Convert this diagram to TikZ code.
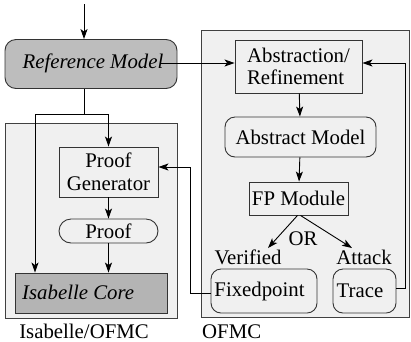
\documentclass[tikz,border=0pt]{standalone}
\usepackage{fontspec}
\setmainfont{Liberation Serif}
\usetikzlibrary{arrows.meta}
\definecolor{panel}{HTML}{F0F0F0}
\definecolor{darkbox}{HTML}{BDBDBD}
\definecolor{corebox}{HTML}{B4B4B4}
\tikzset{
  every node/.style={font=\fontsize{20.8}{22.5}\selectfont, inner sep=0pt},
  arr/.style={draw=black, line width=0.9pt, -{Stealth[length=10pt,width=7pt,inset=2.5pt]}},
  conn/.style={draw=black, line width=0.9pt},
  panelbox/.style={draw=black!75, line width=0.9pt, fill=panel},
  sqbox/.style={draw=black!80, line width=0.9pt, fill=panel},
  rbox/.style={draw=black!80, line width=0.9pt, rounded corners=10pt, fill=panel},
  lbl/.style={anchor=base},
}
\begin{document}
\begin{tikzpicture}[x=1pt,y=-1pt]
\useasboundingbox (0,0) rectangle (411,341);
% containers
\node[panelbox, minimum width=172pt, minimum height=195pt] (iso) at (91,220.5) {};
\node[panelbox, minimum width=208pt, minimum height=287pt] (ofmc) at (305,173.5) {};
\node[lbl] (isolbl) at (84,338) {Isabelle/OFMC};
\node[lbl, anchor=base west] (ofmclbl) at (202,338) {OFMC};
% reference model
\node[draw=black!80, line width=0.9pt, rounded corners=11pt, fill=darkbox, minimum width=172pt, minimum height=49pt] (rm) at (91,64) {};
\node (rmtext) at (93,63) {\itshape Reference Model};
% OFMC side
\node[sqbox, minimum width=127pt, minimum height=53pt, align=left] (abs) at (298.5,66.5) {Abstraction/\\Refinement};
\node[rbox, minimum width=151pt, minimum height=40pt] (am) at (300.5,137) {Abstract Model};
\node[sqbox, minimum width=99pt, minimum height=33pt] (fpm) at (298.5,198.5) {FP Module};
\node[rbox, minimum width=106pt, minimum height=44pt] (fx) at (264,291) {\hspace*{-9pt}Fixedpoint};
\node[rbox, minimum width=63pt, minimum height=44pt] (tr) at (364.5,291) {\hspace*{-9pt}Trace};
\node[lbl] (orl) at (303,245) {OR};
\node[lbl] (ver) at (248,264) {Verified};
\node[lbl] (att) at (364,264) {Attack};
% Isabelle side
\node[sqbox, minimum width=99pt, minimum height=50pt, align=center] (pg) at (108.5,172) {Proof\\Generator};
\node[rbox, rounded corners=12pt, minimum width=99pt, minimum height=24pt] (pf) at (108.5,231) {Proof};
\node[draw=black!80, line width=0.9pt, fill=corebox, minimum width=152pt, minimum height=40pt] (core) at (91,293) {};
\node[anchor=west] (coretext) at (22,292) {\itshape Isabelle Core};
% coordinates
\coordinate (top) at (84,4);
\coordinate (jn) at (84,114);
\coordinate (jl) at (35,114);
\coordinate (rmx) at (160,63);
\coordinate (vtip) at (268,248);
\coordinate (atip) at (352,248);
% connectors
\draw[arr] (top) -- (top |- rm.north);
\draw[conn] (top |- rm.south) -- (jn);
\draw[arr] (jn) -- (jl) -- (jl |- core.north);
\draw[arr] (jn) -| (pg.north);
\draw[arr] (pg) -- (pf);
\draw[arr] (pf) -- (pf.south |- core.north);
\draw[arr] (rmx) -- (rmx -| abs.west);
\draw[arr] ([yshift=3pt]tr.east) -- ++(9,0) |- (rmx -| abs.east);
\draw[arr] (abs) -- (am);
\draw[arr] (am) -- (fpm);
\draw[arr] ([xshift=-1pt]fpm.south) -- (vtip);
\draw[arr] ([xshift=2pt]fpm.south) -- (atip);
\draw[arr] ([yshift=-2pt]fx.west) -- ++(-20,0) |- ([yshift=5pt]pg.east);
\end{tikzpicture}
\end{document}
